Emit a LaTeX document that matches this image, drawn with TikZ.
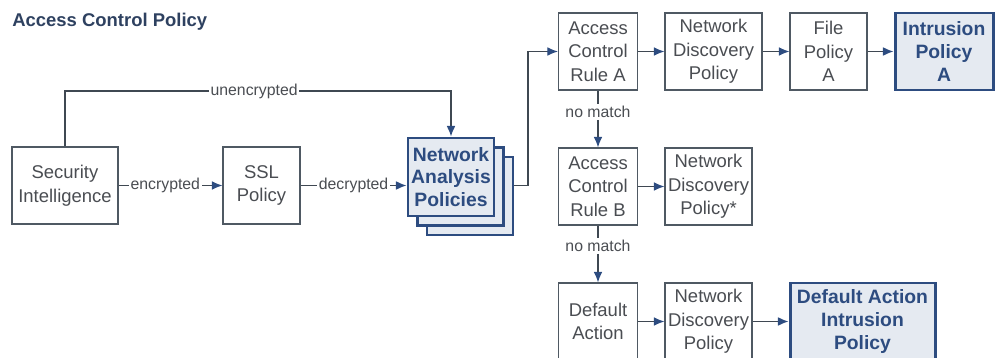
\documentclass[tikz,border=0pt]{standalone}
\usepackage{fontspec}
\setmainfont{Liberation Sans}
\usetikzlibrary{arrows.meta,positioning,calc}
\definecolor{linegrey}{HTML}{3F4852}
\definecolor{boxgrey}{HTML}{4F5963}
\definecolor{textgrey}{HTML}{4A4D52}
\definecolor{ciscoblue}{HTML}{2D4C80}
\definecolor{paleblue}{HTML}{E5EAF1}
\definecolor{titleblue}{HTML}{2E4160}

\begin{document}
\begin{tikzpicture}[
    stagebox/.style={draw=boxgrey,line width=0.7pt,fill=white,text=textgrey,align=center,minimum height=1.54cm,inner sep=1pt,font=\fontsize{10.5}{13.5}\selectfont},
    keybox/.style={draw=ciscoblue,line width=1.7pt,fill=paleblue,text=ciscoblue,align=center,minimum height=1.54cm,inner sep=1pt,font=\fontsize{11}{13}\selectfont\bfseries},
    flow/.style={draw=linegrey,line width=0.7pt,-{Latex[length=6pt,width=5pt,color=ciscoblue]}},
    wire/.style={draw=linegrey,line width=0.7pt},
    tag/.style={fill=white,text=textgrey,inner sep=1pt,font=\fontsize{9}{10}\selectfont}
  ]
  \useasboundingbox (0,0) rectangle (20,-7.16);
  \clip (0,0) rectangle (20,-7.16);

  \node[anchor=west,text=titleblue,inner sep=0pt,font=\fontsize{10.5}{12}\selectfont\bfseries] (title) at (0.24,-0.44) {Access Control Policy};

  % entry side
  \node[stagebox,minimum width=2.12cm] (si) at (1.30,-3.71) {Security\\Intelligence};
  \node[stagebox,minimum width=1.54cm] (ssl) at (5.23,-3.71) {SSL\\Policy};
  \node[keybox,minimum width=1.72cm,minimum height=1.56cm] (nap3) at (9.40,-3.92) {};
  \node[keybox,minimum width=1.72cm,minimum height=1.56cm] (nap2) at (9.21,-3.73) {};
  \node[keybox,minimum width=1.72cm,minimum height=1.56cm] (nap) at (9.02,-3.54) {Network\\Analysis\\Policies};

  % rules
  \node[stagebox,minimum width=1.58cm] (acra) at (11.96,-1.03) {Access\\Control\\Rule A};
  \node[stagebox,minimum width=1.94cm] (ndpa) at (14.27,-1.03) {Network\\Discovery\\Policy};
  \node[stagebox,minimum width=1.54cm] (filea) at (16.57,-1.03) {File\\Policy\\A};
  \node[keybox,minimum width=1.96cm] (intra) at (18.88,-1.03) {Intrusion\\Policy\\A};

  \node[stagebox,minimum width=1.58cm] (acrb) at (11.96,-3.73) {Access\\Control\\Rule B};
  \node[stagebox,minimum width=1.74cm] (ndpb) at (14.17,-3.73) {Network\\Discovery\\Policy*};

  \node[stagebox,minimum width=1.58cm] (defact) at (11.96,-6.43) {Default\\Action};
  \node[stagebox,minimum width=1.74cm] (ndpc) at (14.17,-6.43) {Network\\Discovery\\Policy};
  \node[keybox,minimum width=2.90cm] (defint) at (17.25,-6.43) {Default Action\\Intrusion\\Policy};

  \node[tag] (nm1) at (11.96,-2.24) {no match};
  \node[tag] (nm2) at (11.96,-4.92) {no match};

  \coordinate (ubend) at (9.02,-1.82);
  \coordinate (risex) at (10.56,0);

  % connectors
  \draw[flow] (si.north) |- node[tag,pos=0.745]{unencrypted} (ubend) -- (nap.north);
  \draw[flow] (si.east) -- node[tag,pos=0.45]{encrypted} (ssl.west);
  \draw[flow] (ssl.east) -- node[tag]{decrypted} (ssl.east -| nap.west);
  \draw[flow] (ssl.east -| nap3.east) -- (ssl.east -| risex) |- (acra.west);
  \draw[flow] (acra) -- (ndpa);
  \draw[flow] (ndpa) -- (filea);
  \draw[flow] (filea) -- (intra);
  \draw[wire] (acra.south) -- (nm1.north);
  \draw[flow] (nm1.south) -- (acrb.north);
  \draw[flow] (acrb) -- (ndpb);
  \draw[wire] (acrb.south) -- (nm2.north);
  \draw[flow] (nm2.south) -- (defact.north);
  \draw[flow] (defact) -- (ndpc);
  \draw[flow] (ndpc) -- (defint);
\end{tikzpicture}
\end{document}
